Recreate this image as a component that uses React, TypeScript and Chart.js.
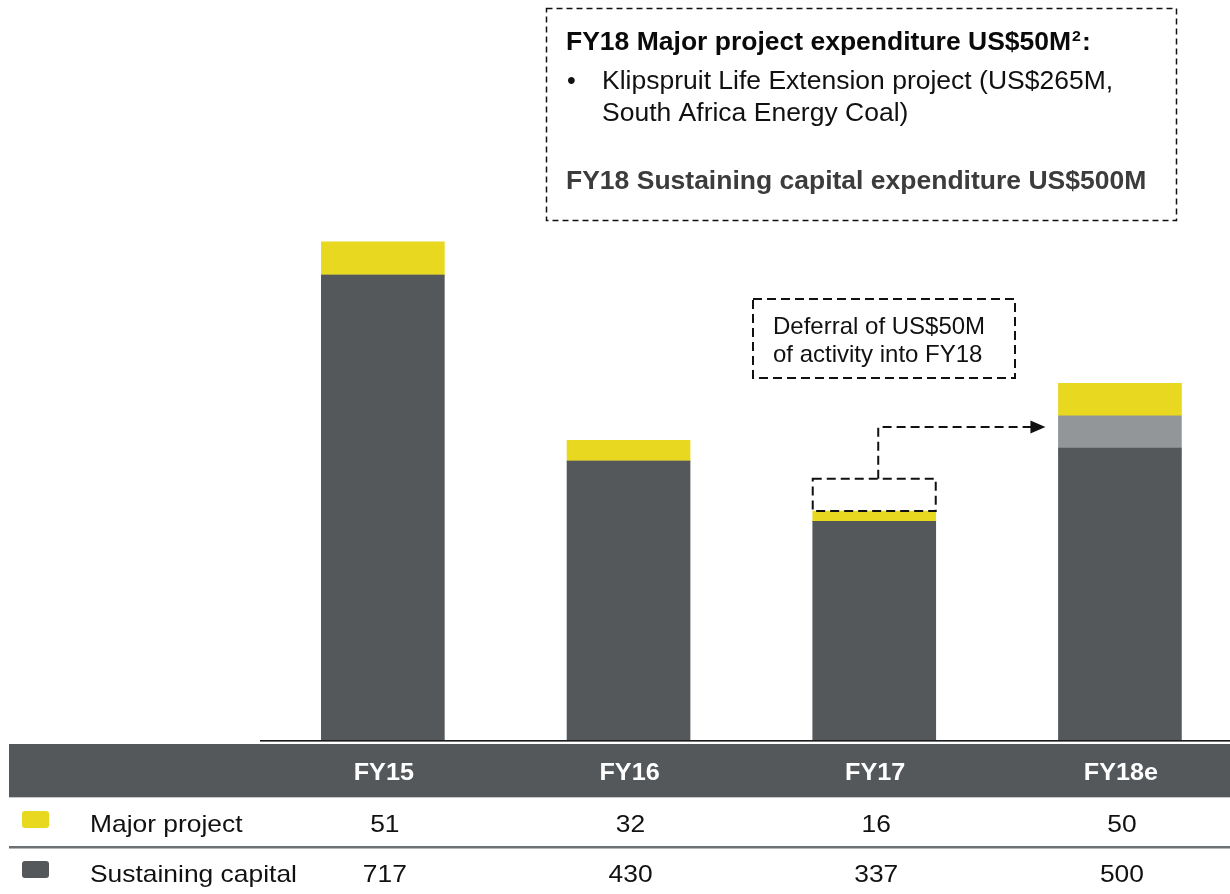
import React, { useEffect, useRef } from "react";
import { Chart, registerables } from "chart.js";

Chart.register(...registerables);

// ---- data ----
const categories = ["FY15", "FY16", "FY17", "FY18e"];
const majorProject = [51, 32, 16, 50];
const sustainingCapital = [717, 430, 337, 500];
const deferredIntoFY18 = [0, 0, 0, 50];
const deferredFromFY17 = [0, 0, 50, 0];
const rowLabels = ["Major project", "Sustaining capital"];

const DARK = "#55585b";
const YELLOW = "#e8d920";
const LIGHT = "#939698";
const FONT = '"Liberation Sans", Arial, Helvetica, sans-serif';

function txt(
  ctx: CanvasRenderingContext2D,
  s: string,
  x: number,
  y: number,
  font: string,
  color: string,
  stretch = 1,
  align: CanvasTextAlign = "left"
) {
  ctx.save();
  ctx.font = font;
  ctx.fillStyle = color;
  ctx.textBaseline = "alphabetic";
  ctx.textAlign = align;
  ctx.translate(x, y);
  ctx.scale(stretch, 1);
  ctx.fillText(s, 0, 0);
  const w = ctx.measureText(s).width * stretch;
  ctx.restore();
  return w;
}

function dashedRect(ctx: CanvasRenderingContext2D, x: number, y: number, w: number, h: number, lw: number, dash: number[]) {
  ctx.save();
  ctx.strokeStyle = "#111";
  ctx.lineWidth = lw;
  ctx.setLineDash(dash);
  ctx.strokeRect(x, y, w, h);
  ctx.restore();
}

const overlayPlugin = {
  id: "overlay",
  afterDatasetsDraw(chart: any) {
    const ctx: CanvasRenderingContext2D = chart.ctx;
    const area = chart.chartArea;
    const xScale = chart.scales.x;

    // axis baseline
    ctx.save();
    ctx.fillStyle = "#1c1c1c";
    ctx.fillRect(area.left, area.bottom, area.right - area.left, 1.6);
    ctx.restore();

    // ghost (deferred) box on FY17
    const ghost = chart.getDatasetMeta(3).data[2];
    const gp = ghost.getProps(["x", "y", "base", "width"], true);
    dashedRect(ctx, gp.x - gp.width / 2, gp.y, gp.width, gp.base - gp.y, 2, [9, 5]);

    // arrow to FY18e
    const target = chart.getDatasetMeta(0).data[3];
    const tp = target.getProps(["x", "width"], true);
    const arrowY = 427;
    const tipX = tp.x - tp.width / 2 - 13;
    ctx.save();
    ctx.strokeStyle = "#111";
    ctx.lineWidth = 2;
    ctx.setLineDash([9, 5]);
    ctx.beginPath();
    ctx.moveTo(gp.x + 4, gp.y);
    ctx.lineTo(gp.x + 4, arrowY);
    ctx.lineTo(tipX - 14, arrowY);
    ctx.stroke();
    ctx.setLineDash([]);
    ctx.fillStyle = "#111";
    ctx.beginPath();
    ctx.moveTo(tipX, arrowY);
    ctx.lineTo(tipX - 15, arrowY - 6.5);
    ctx.lineTo(tipX - 15, arrowY + 6.5);
    ctx.closePath();
    ctx.fill();
    ctx.restore();

    // deferral note
    dashedRect(ctx, 753, 299, 262, 79, 2, [9, 5]);
    txt(ctx, "Deferral of US$50M", 773, 334, `24px ${FONT}`, "#111");
    txt(ctx, "of activity into FY18", 773, 362, `24px ${FONT}`, "#111");

    // top note box
    dashedRect(ctx, 546.5, 8.5, 630, 212, 1.5, [6, 4]);
    let w = txt(ctx, "FY18 Major project expenditure US$50M", 566, 50, `bold 25px ${FONT}`, "#0a0a0a", 1.06);
    w += txt(ctx, "2", 566 + w + 1, 41, `bold 15px ${FONT}`, "#0a0a0a", 1.06);
    txt(ctx, ":", 566 + w + 2, 50, `bold 25px ${FONT}`, "#0a0a0a", 1.06);
    txt(ctx, "\u2022", 567, 89, `25px ${FONT}`, "#111");
    txt(ctx, "Klipspruit Life Extension project (US$265M,", 602, 89, `25px ${FONT}`, "#111", 1.06);
    txt(ctx, "South Africa Energy Coal)", 602, 121, `25px ${FONT}`, "#111", 1.06);
    txt(ctx, "FY18 Sustaining capital expenditure US$500M", 566, 189, `bold 25px ${FONT}`, "#3c3c3c", 1.06);

    // table
    const W = chart.width;
    ctx.save();
    ctx.fillStyle = DARK;
    ctx.fillRect(9, 744, W - 9, 53);
    ctx.fillStyle = "#c8c9ca";
    ctx.fillRect(9, 797, W - 9, 1);
    ctx.fillStyle = "#6e7173";
    ctx.fillRect(9, 846, W - 9, 2);
    ctx.fillStyle = "#b4b6b8";
    ctx.fillRect(9, 848, W - 9, 1);
    ctx.fillStyle = YELLOW;
    ctx.beginPath();
    ctx.roundRect(22, 811, 27, 17, 3);
    ctx.fill();
    ctx.fillStyle = DARK;
    ctx.beginPath();
    ctx.roundRect(22, 861, 27, 17, 3);
    ctx.fill();
    ctx.restore();

    txt(ctx, rowLabels[0], 90, 832, `24px ${FONT}`, "#111", 1.1);
    txt(ctx, rowLabels[1], 90, 882, `24px ${FONT}`, "#111", 1.1);

    categories.forEach((c, i) => {
      const cx = xScale.getPixelForValue(i);
      txt(ctx, c, cx + 1, 780, `bold 24px ${FONT}`, "#ffffff", 1.05, "center");
      txt(ctx, String(majorProject[i]), cx + 2, 832, `24px ${FONT}`, "#111", 1.1, "center");
      txt(ctx, String(sustainingCapital[i]), cx + 2, 882, `24px ${FONT}`, "#111", 1.1, "center");
    });
  },
};

export default function App() {
  const ref = useRef<HTMLCanvasElement | null>(null);

  useEffect(() => {
    if (!ref.current) return;
    const chart = new Chart(ref.current, {
      type: "bar",
      data: {
        datasets: [
          {
            label: "Sustaining capital",
            data: sustainingCapital.map((v, i) => ({ x: i, y: v - deferredIntoFY18[i] })),
            backgroundColor: DARK,
          },
          {
            label: "Deferred into FY18",
            data: deferredIntoFY18.map((v, i) => ({ x: i, y: v })),
            backgroundColor: LIGHT,
          },
          {
            label: "Major project",
            data: majorProject.map((v, i) => ({ x: i, y: v })),
            backgroundColor: YELLOW,
          },
          {
            label: "Deferral from FY17",
            data: deferredFromFY17.map((v, i) => ({ x: i, y: v })),
            backgroundColor: "rgba(0,0,0,0)",
          },
        ],
      },
      options: {
        animation: false,
        responsive: true,
        maintainAspectRatio: false,
        layout: { padding: { left: 260, right: 0, top: 0, bottom: 154 } },
        datasets: { bar: { barThickness: 123, borderWidth: 0 } },
        scales: {
          x: { type: "linear", min: -0.5, max: 3.448, offset: false, grace: 0, stacked: true, display: false },
          y: { min: 0, max: 1141, stacked: true, display: false },
        },
        plugins: {
          legend: { display: false },
          tooltip: { enabled: false },
        },
      } as any,
      plugins: [overlayPlugin],
    });
    return () => chart.destroy();
  }, []);

  return (
    <div style={{ position: "absolute", left: 0, top: 0, width: 1230, height: 894, background: "#fff" }}>
      <canvas ref={ref} />
    </div>
  );
}
